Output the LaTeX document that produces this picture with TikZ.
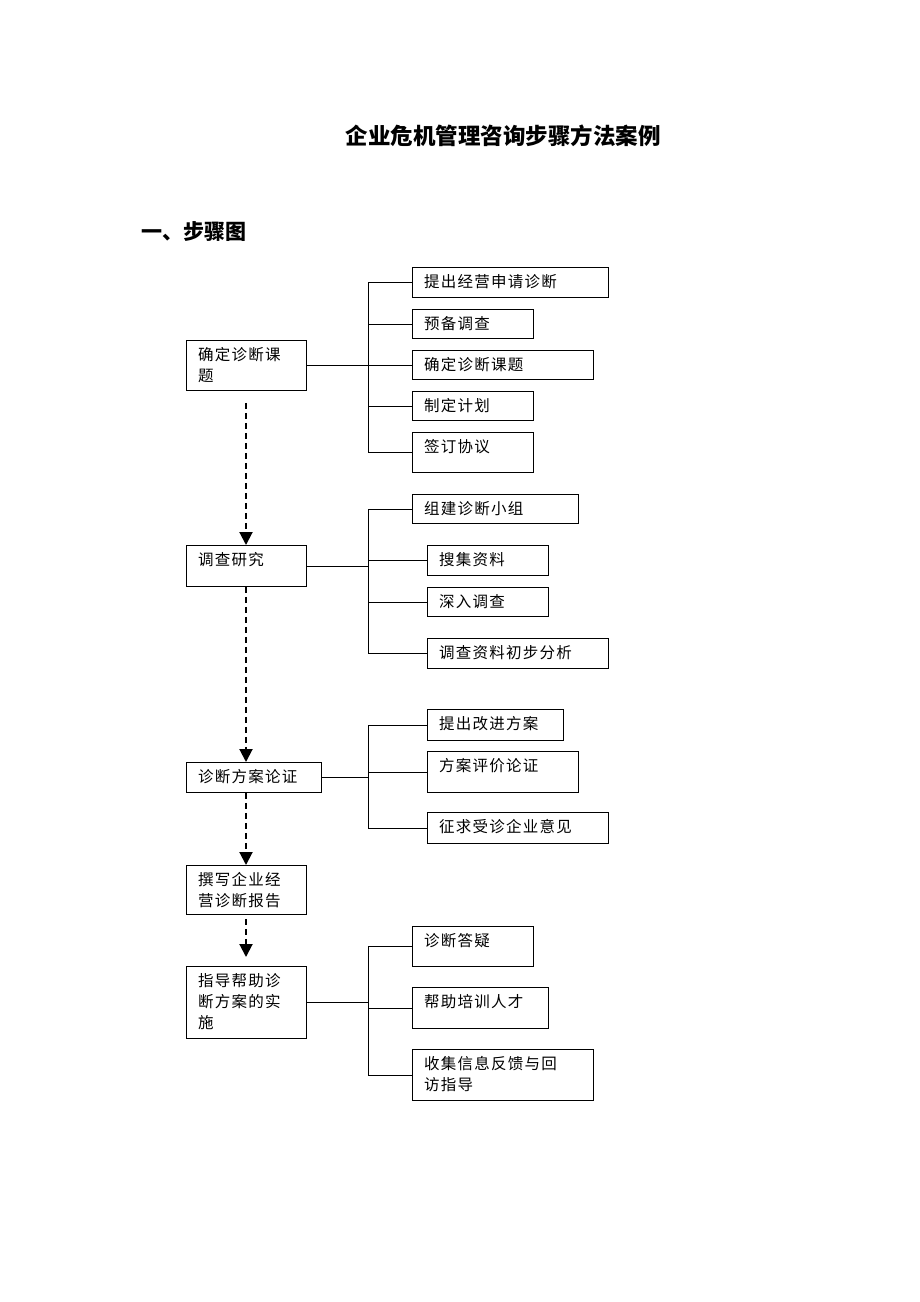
\documentclass[tikz,border=0pt]{standalone}
\usepackage{fontspec}
\setmainfont{Noto Sans CJK SC}
\newfontfamily\boxfont[LetterSpace=8]{Noto Sans CJK SC}
\usetikzlibrary{arrows.meta,positioning}
\tikzstyle{stepbox}=[draw,line width=0.9pt,anchor=north west,inner sep=0pt]
\tikzstyle{steptext}=[anchor=north west,align=left,inner sep=0pt,font=\boxfont\fontsize{15.5}{21}\selectfont]
\tikzstyle{link}=[draw,line width=0.9pt]
\tikzstyle{flow}=[draw,line width=2pt,dash pattern=on 6pt off 4pt,-{Triangle[length=13pt,width=13pt]}]
\newcommand{\mkstep}[6]{\node[stepbox,minimum width=#4pt,minimum height=#5pt] (#1) at (#2,#3) {};
  \node[steptext] (#1t) at ([xshift=12pt,yshift=-7pt]#1.north west) {#6};}
\begin{document}
\begin{tikzpicture}[x=1pt,y=-1pt]
    \useasboundingbox (0,0) rectangle (920,1302);
    \node[font=\fontsize{22.5}{26}\selectfont\bfseries] (title) at (503,136) {企业危机管理咨询步骤方法案例};
    \node[font=\fontsize{21}{25}\selectfont\bfseries,anchor=west] (head) at (138,232) {一、步骤图};
    \coordinate (busx) at (368,0);
    \coordinate (flowx) at (246,0);

    % main steps
    \mkstep{s1}{186}{340}{120}{50}{确定诊断课\\题}
    \mkstep{s2}{186}{545}{120}{41}{调查研究}
    \mkstep{s3}{186}{762}{135}{30}{诊断方案论证}
    \mkstep{s4}{186}{865}{120}{49}{撰写企业经\\营诊断报告}
    \mkstep{s5}{186}{966}{120}{72}{指导帮助诊\\断方案的实\\施}

    % sub steps
    \foreach \name/\x/\y/\w/\h/\txt in {
        a1/412/267/196/30/提出经营申请诊断, a2/412/309/121/29/预备调查,
        a3/412/350/181/29/确定诊断课题, a4/412/391/121/29/制定计划,
        a5/412/432/121/40/签订协议,
        b1/412/494/166/29/组建诊断小组, b2/427/545/121/30/搜集资料,
        b3/427/587/121/29/深入调查, b4/427/638/181/30/调查资料初步分析,
        c1/427/709/136/31/提出改进方案, c2/427/751/151/41/方案评价论证,
        c3/427/812/181/31/征求受诊企业意见,
        e1/412/926/121/40/诊断答疑, e2/412/987/136/41/帮助培训人才}
        {\mkstep{\name}{\x}{\y}{\w}{\h}{\txt}}
    \mkstep{e3}{412}{1049}{181}{51}{收集信息反馈与回\\访指导}

    % bus lines
    \foreach \src/\first/\last/\others in {s1/a1/a5/{a2,a3,a4}, s2/b1/b4/{b2,b3}, s3/c1/c3/{c2}, s5/e1/e3/{e2}} {
        \coordinate (top) at (busx |- \first.west);
        \coordinate (bot) at (busx |- \last.west);
        \path[link] (\src.east) -- (busx |- \src.east);
        \path[link] (\first.west) -- (top) -- (bot) -- (\last.west);
        \foreach \n in \others
            \path[link] (busx |- \n.west) -- (\n.west);
    }

    % dashed flow
    \path[flow] ([yshift=-12pt]flowx |- s1.south) -- (flowx |- s2.north);
    \path[flow] (flowx |- s2.south) -- (flowx |- s3.north);
    \path[flow] (flowx |- s3.south) -- (flowx |- s4.north);
    \path[flow] ([yshift=-4pt]flowx |- s4.south) -- ([yshift=9pt]flowx |- s5.north);
\end{tikzpicture}
\end{document}
